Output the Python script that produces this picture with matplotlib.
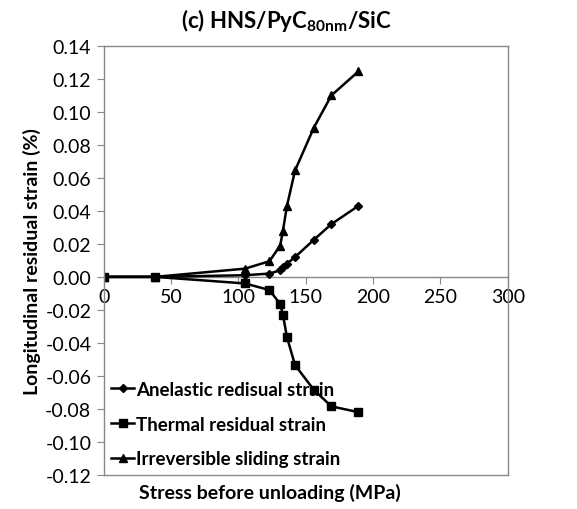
import numpy as np
import matplotlib
matplotlib.use("Agg")
import matplotlib.pyplot as plt

plt.rcParams['font.family'] = ['Lato', 'DejaVu Sans']
plt.rcParams['mathtext.fontset'] = 'custom'
plt.rcParams['mathtext.bf'] = 'Lato:bold'
plt.rcParams['mathtext.rm'] = 'Lato'

# Stress before unloading (MPa)
stress = [0, 38, 105, 123, 131, 133, 136, 142, 156, 169, 189]
# Longitudinal residual strain (%)
anelastic = [0, 0, 0.001, 0.002, 0.004, 0.006, 0.008, 0.012, 0.0225, 0.032, 0.043]
thermal = [0, 0, -0.004, -0.008, -0.0165, -0.023, -0.0365, -0.0535, -0.0685, -0.0785, -0.082]
irreversible = [0, 0, 0.005, 0.0095, 0.019, 0.028, 0.043, 0.0645, 0.0905, 0.110, 0.1245]

series_labels = ['Anelastic redisual strain', 'Thermal residual strain', 'Irreversible sliding strain']
y_ticks = np.round(np.arange(-0.12, 0.1401, 0.02), 2)
x_ticks = [0, 50, 100, 150, 200, 250, 300]

fig = plt.figure(figsize=(5.77, 5.10), dpi=100)
ax = fig.add_axes([0.180, 0.067, 0.700, 0.841])

ax.plot(stress, anelastic, color='black', lw=1.8, marker='D', ms=4.5, label=series_labels[0])
ax.plot(stress, thermal, color='black', lw=1.8, marker='s', ms=6, label=series_labels[1])
ax.plot(stress, irreversible, color='black', lw=1.8, marker='^', ms=6, label=series_labels[2])

ax.set_xlim(0, 300)
ax.set_ylim(-0.12, 0.14)
ax.set_yticks(y_ticks)
ax.set_yticklabels([f'{v:.2f}' for v in y_ticks])
ax.tick_params(axis='y', direction='out', length=5, color='#888888', labelsize=14, pad=4)

# x axis drawn through zero, Excel style
ax.set_xticks([])
zero_pos = (0 - (-0.12)) / (0.14 - (-0.12))
sec = ax.secondary_xaxis(zero_pos)
sec.set_xticks(x_ticks)
sec.tick_params(axis='x', direction='out', length=5, color='#888888', labelsize=14, pad=3)
sec.spines['bottom'].set_color('#888888')
sec.spines['bottom'].set_linewidth(1.0)

for s in ax.spines.values():
    s.set_color('#888888')
    s.set_linewidth(1.0)

ax.set_ylabel('Longitudinal residual strain (%)', fontsize=14, fontweight='bold', labelpad=3)

fig.text(270 / 577, 1 - 493 / 510, 'Stress before unloading (MPa)', ha='center', va='center',
         fontsize=14, fontweight='bold')

fig.text(286 / 577, 1 - 21 / 510, r'(c) HNS/PyC$_{\mathbf{80nm}}$/SiC', ha='center', va='center',
         fontsize=16, fontweight='bold')

ax.legend(loc='lower left', frameon=False, prop={'weight': 'bold', 'size': 13.5},
          handlelength=1.2, handletextpad=0.1, labelspacing=0.95, borderaxespad=0.0)

fig.savefig('out.png', dpi=100)
